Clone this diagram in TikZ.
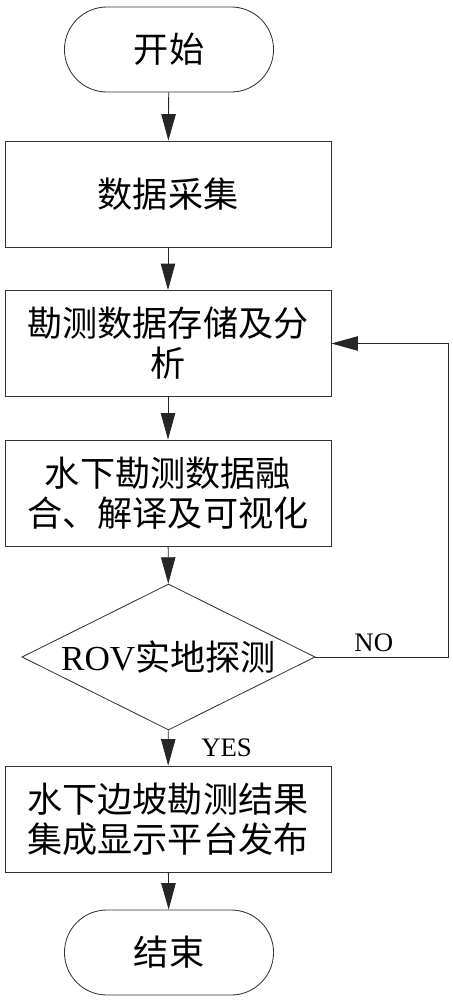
\documentclass[tikz,border=0pt]{standalone}
\usepackage{fontspec}
\setmainfont{Liberation Serif}
\newfontfamily\cjk{Noto Sans CJK SC}
\usetikzlibrary{arrows.meta,shapes.geometric}

\begin{document}
\begin{tikzpicture}[x=0.025cm, y=-0.025cm,
  line width=0.6pt, draw=black!80,
  terminal/.style={draw=black!80, rounded corners=1.06cm, minimum width=5.225cm, minimum height=2.125cm, font=\cjk\fontsize{25}{28.5}\selectfont},
  procbox/.style={draw=black!80, minimum width=8.15cm, minimum height=2.65cm, align=center, font=\cjk\fontsize{25}{28.5}\selectfont},
  decision/.style={draw=black!80, diamond, aspect=2, inner sep=0pt, minimum width=7.325cm, minimum height=3.65cm, font=\fontsize{25}{28.5}\selectfont},
  arr/.style={-{Triangle[length=0.66cm, width=0.36cm]}, draw=black!85},
  tag/.style={font=\fontsize{19}{22}\selectfont}]
  \useasboundingbox (0,0) rectangle (453,1000);
  \pgfmathsetmacro{\cx}{168}
  \node[terminal] (start) at (\cx+1,49.5) {开始};
  \node[procbox] (collect) at (\cx,194) {数据采集};
  \node[procbox] (store) at (\cx,343.5) {勘测数据存储及分\\析};
  \node[procbox] (fuse) at (\cx,493) {水下勘测数据融\\合、解译及可视化};
  \node[decision] (check) at (\cx+0.5,657) {ROV{\cjk 实地探测}};
  \node[procbox] (publish) at (\cx,819) {水下边坡勘测结果\\集成显示平台发布};
  \node[terminal] (stop) at (\cx+1,952.5) {结束};
  \coordinate (loop) at (448,0);
  \draw[arr] (start) -- (collect);
  \draw[arr] (collect) -- (store);
  \draw[arr] (store) -- (fuse);
  \draw[arr] (fuse) -- (check);
  \draw[arr] (check) -- node[tag, right=0.7cm] {YES} (publish);
  \draw[arr] (publish) -- (stop);
  \draw[arr] (check.east) -- node[tag, above, pos=0.44] {NO} (check.east -| loop) |- (store.east);
\end{tikzpicture}
\end{document}
